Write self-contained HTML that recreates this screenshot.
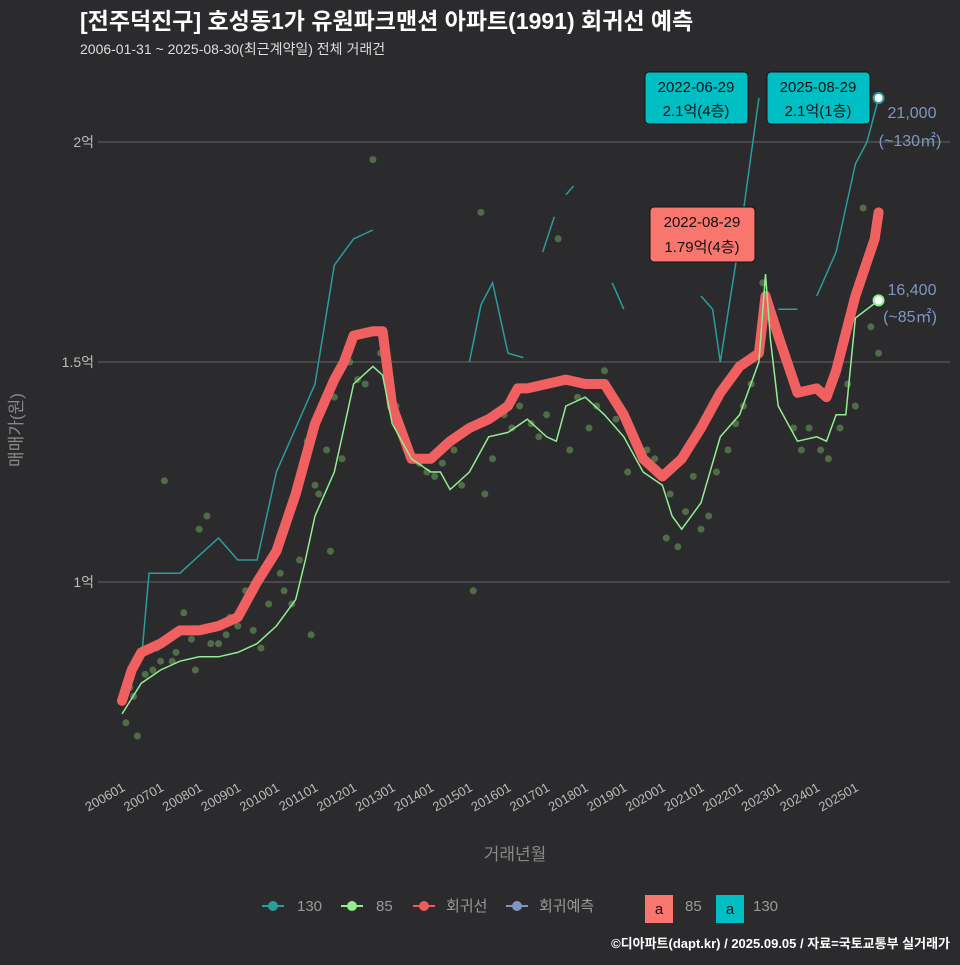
<!DOCTYPE html>
<html><head><meta charset="utf-8">
<style>
body{margin:0;background:#2b2b2d;}
svg text{font-family:"Liberation Sans","Noto Sans CJK KR",sans-serif;}
</style></head>
<body>
<svg id="chart" width="960" height="960" xmlns="http://www.w3.org/2000/svg">
<rect width="960" height="960" fill="#2b2b2d"/>
<text x="80" y="29" fill="#ffffff" font-size="23" font-weight="bold">[전주덕진구] 호성동1가 유원파크맨션 아파트(1991) 회귀선 예측</text>
<text x="80" y="54" fill="#dddddd" font-size="14">2006-01-31 ~ 2025-08-30(최근계약일) 전체 거래건</text>
<g id="grid"></g>
<g id="marks"></g>
<g id="axes"></g>
<text x="22" y="430" fill="#888" font-size="17" transform="rotate(-90 22 430)" text-anchor="middle">매매가(원)</text>
<text x="515" y="860" fill="#888" font-size="17" text-anchor="middle">거래년월</text>
<g>
<rect x="645" y="72" width="103" height="52" rx="4" fill="#00bfc4" stroke="#111"/>
<text x="696" y="92" text-anchor="middle" font-size="15" fill="#111">2022-06-29</text>
<text x="696" y="116" text-anchor="middle" font-size="15" fill="#111">2.1억(4층)</text></g>
<g>
<rect x="767" y="72" width="103" height="52" rx="4" fill="#00bfc4" stroke="#111"/>
<text x="818" y="92" text-anchor="middle" font-size="15" fill="#111">2025-08-29</text>
<text x="818" y="116" text-anchor="middle" font-size="15" fill="#111">2.1억(1층)</text></g>
<g>
<rect x="650" y="207" width="105" height="55" rx="4" fill="#f8766d" stroke="#111"/>
<text x="702" y="227" text-anchor="middle" font-size="15" fill="#111">2022-08-29</text>
<text x="702" y="252" text-anchor="middle" font-size="15" fill="#111">1.79억(4층)</text></g>
<text x="912" y="118" text-anchor="middle" font-size="16" fill="#7f97c0">21,000</text>
<text x="910" y="146" text-anchor="middle" font-size="16" fill="#7f97c0">(~130㎡)</text>
<text x="912" y="295" text-anchor="middle" font-size="16" fill="#7f97c0">16,400</text>
<text x="910" y="322" text-anchor="middle" font-size="16" fill="#7f97c0">(~85㎡)</text>
<g font-size="15">
<g><line x1="262" y1="906" x2="284" y2="906" stroke="#2a9d9d" stroke-width="2"/><circle cx="273" cy="906" r="5" fill="#2a9d9d"/><text x="297" y="911" fill="#999">130</text></g>
<g><line x1="341" y1="906" x2="363" y2="906" stroke="#90ee90" stroke-width="2"/><circle cx="352" cy="906" r="5" fill="#90ee90"/><text x="376" y="911" fill="#999">85</text></g>
<g><line x1="413" y1="906" x2="435" y2="906" stroke="#f05a5a" stroke-width="2"/><circle cx="424" cy="906" r="5" fill="#f05a5a"/><text x="446" y="911" fill="#999">회귀선</text></g>
<g><line x1="506" y1="906" x2="528" y2="906" stroke="#7f97c0" stroke-width="2"/><circle cx="517" cy="906" r="5" fill="#7f97c0"/><text x="539" y="911" fill="#999">회귀예측</text></g>
<g><rect x="645" y="895" width="28" height="28" fill="#f8766d"/><text x="659" y="914" text-anchor="middle" fill="#111">a</text><text x="685" y="911" fill="#999">85</text></g>
<g><rect x="716" y="895" width="28" height="28" fill="#00bfc4"/><text x="730" y="914" text-anchor="middle" fill="#111">a</text><text x="753" y="911" fill="#999">130</text></g>
</g>
<text x="950" y="948" text-anchor="end" fill="#fff" font-size="13" font-weight="bold">©디아파트(dapt.kr) / 2025.09.05 / 자료=국토교통부 실거래가</text>
</svg>
<script>
const yTicks=[1,1.5,2];
const yTickLabels=['1억','1.5억','2억'];
const xTickYears=[2006,2007,2008,2009,2010,2011,2012,2013,2014,2015,2016,2017,2018,2019,2020,2021,2022,2023,2024,2025];
const regT=[2006.0,2006.25,2006.5,2007.0,2007.5,2008.0,2008.5,2009.0,2009.5,2010.0,2010.5,2011.0,2011.5,2011.75,2012.0,2012.5,2012.75,2013.0,2013.5,2014.0,2014.5,2015.0,2015.5,2016.0,2016.25,2016.5,2017.0,2017.5,2018.0,2018.5,2019.0,2019.5,2020.0,2020.5,2021.0,2021.5,2022.0,2022.5,2022.67,2023.0,2023.5,2024.0,2024.25,2024.5,2025.0,2025.5,2025.6];
const regV=[0.73,0.80,0.84,0.86,0.89,0.89,0.90,0.92,1.00,1.07,1.20,1.36,1.46,1.50,1.56,1.57,1.57,1.40,1.28,1.28,1.32,1.35,1.37,1.40,1.44,1.44,1.45,1.46,1.45,1.45,1.38,1.28,1.24,1.28,1.35,1.43,1.49,1.52,1.65,1.56,1.43,1.44,1.42,1.48,1.65,1.78,1.84];
const g85T=[2006.0,2006.5,2007.0,2007.5,2008.0,2008.5,2009.0,2009.5,2010.0,2010.5,2010.75,2011.0,2011.5,2011.75,2012.0,2012.5,2012.75,2013.0,2013.5,2014.0,2014.25,2014.5,2015.0,2015.5,2016.0,2016.5,2017.0,2017.25,2017.5,2018.0,2018.5,2019.0,2019.5,2020.0,2020.25,2020.5,2021.0,2021.5,2022.0,2022.5,2022.67,2022.8,2023.0,2023.5,2024.0,2024.25,2024.5,2024.75,2025.0,2025.6];
const g85V=[0.70,0.77,0.80,0.82,0.83,0.83,0.84,0.86,0.90,0.96,1.05,1.15,1.25,1.35,1.45,1.49,1.47,1.36,1.28,1.25,1.25,1.21,1.25,1.33,1.34,1.37,1.33,1.32,1.40,1.42,1.38,1.33,1.25,1.22,1.15,1.12,1.18,1.33,1.38,1.50,1.70,1.55,1.40,1.32,1.33,1.32,1.38,1.38,1.60,1.64];
const t130T=[2006.5,2006.7,2007.5,2008.0,2008.5,2009.0,2009.5,2010.0,2010.5,2011.0,2011.5,2012.0,2012.5,null,2015.0,2015.3,2015.6,2016.0,2016.4,null,2016.9,2017.2,null,2017.5,2017.7,null,2018.7,2019.0,null,2021.0,2021.3,2021.5,2022.0,2022.5,null,2023.0,2023.5,null,2024.0,2024.5,2025.0,2025.3,2025.6];
const t130V=[0.82,1.02,1.02,1.06,1.10,1.05,1.05,1.25,1.35,1.45,1.72,1.78,1.80,null,1.50,1.63,1.68,1.52,1.51,null,1.75,1.83,null,1.88,1.90,null,1.68,1.62,null,1.65,1.62,1.50,1.78,2.10,null,1.62,1.62,null,1.65,1.75,1.95,2.0,2.1];
const ptT=[2006.1,2006.2,2006.4,2006.6,2006.9,2007.1,2007.3,2007.6,2007.9,2008.2,2008.5,2008.8,2009.2,2009.6,2010.1,2010.4,2010.8,2011.1,2011.5,2011.9,2012.3,2012.7,2013.2,2013.7,2014.1,2014.6,2015.1,2015.4,2015.9,2016.3,2016.8,2017.2,2017.6,2018.1,2018.5,2019.1,2019.6,2020.1,2020.4,2020.8,2021.2,2021.7,2022.1,2022.6,2023.2,2023.8,2024.3,2024.8,2025.2,2025.6,2008.0,2012.5,2017.3,2015.3,
2006.3,2006.8,2007.0,2007.4,2007.8,2008.3,2008.7,2009.0,2009.4,2009.8,2010.2,2010.6,2011.0,2011.3,2011.7,2012.1,2012.9,2013.4,2013.9,2014.3,2014.8,2015.6,2016.1,2016.6,2017.0,2017.8,2018.3,2018.8,2019.3,2019.8,2020.2,2020.6,2021.0,2021.4,2021.9,2022.3,2022.9,2023.4,2023.6,2024.1,2024.6,2025.0,2025.4,2010.9,2011.4,2013.1];
const ptV=[0.68,0.76,0.65,0.79,0.85,1.23,0.82,0.93,0.80,1.15,0.86,0.92,0.98,0.85,1.02,0.95,1.32,1.2,1.42,1.5,1.45,1.52,1.35,1.27,1.24,1.3,0.98,1.2,1.38,1.40,1.33,1.45,1.3,1.35,1.48,1.25,1.3,1.1,1.08,1.24,1.15,1.3,1.4,1.68,1.5,1.35,1.28,1.45,1.85,1.52,1.12,1.96,1.78,1.84,
0.74,0.80,0.82,0.84,0.87,0.86,0.88,0.90,0.89,0.95,0.98,1.05,1.22,1.30,1.28,1.46,1.48,1.30,1.25,1.27,1.22,1.28,1.35,1.36,1.38,1.42,1.40,1.37,1.33,1.28,1.20,1.16,1.12,1.25,1.36,1.45,1.60,1.35,1.30,1.30,1.35,1.40,1.58,0.88,1.07,1.40];
const x0=122, pxYear=38.6;
function X(t){return x0+(t-2006)*pxYear;}
function Y(v){return 582-(v-1)*440;}
const NS='http://www.w3.org/2000/svg';
function mk(tag,attrs,parent){const e=document.createElementNS(NS,tag);for(const k in attrs)e.setAttribute(k,attrs[k]);parent.appendChild(e);return e;}
const grid=document.getElementById('grid'),marks=document.getElementById('marks'),axes=document.getElementById('axes');
yTicks.forEach((v,i)=>{
 const l=mk('line',{x1:98,x2:950,y1:Y(v),y2:Y(v),stroke:'#666','stroke-width':1},grid);
 
 
 const t=mk('text',{x:94,y:Y(v)+5,'text-anchor':'end',fill:'#bbb','font-size':14},axes);
 t.textContent=yTickLabels[i];
 
 
});
xTickYears.forEach(yr=>{
 const x=X(yr);
 const t=mk('text',{x:x+4,y:790,'text-anchor':'end',fill:'#bbb','font-size':13,transform:`rotate(-30 ${x+4} 790)`},axes);
 t.textContent=yr+'01';
 
 
});
ptT.forEach((t,i)=>{
 const c=mk('circle',{cx:X(t),cy:Y(ptV[i]),r:3.5,fill:'#6a9a5a','fill-opacity':0.6},marks);
 
 
});
function pathFrom(T,V){let d='',pen=false;for(let i=0;i<T.length;i++){if(T[i]===null){pen=false;continue;}d+=(pen?'L':'M')+X(T[i]).toFixed(1)+','+Y(V[i]).toFixed(1);pen=true;}return d;}
const p130=mk('path',{d:pathFrom(t130T,t130V),fill:'none',stroke:'#2a9d9d','stroke-width':1.5},marks);


const preg=mk('path',{d:pathFrom(regT,regV),fill:'none',stroke:'#f06060','stroke-width':10,'stroke-linejoin':'round','stroke-linecap':'round'},marks);


const p85=mk('path',{d:pathFrom(g85T,g85V),fill:'none',stroke:'#90ee90','stroke-width':1.5},marks);


const e130=mk('circle',{cx:X(2025.6),cy:Y(2.1),r:5,fill:'#fff',stroke:'#2a9d9d','stroke-width':2},marks);


const e85=mk('circle',{cx:X(2025.6),cy:Y(1.64),r:5,fill:'#fff',stroke:'#90ee90','stroke-width':2},marks);


</script>
</body></html>
